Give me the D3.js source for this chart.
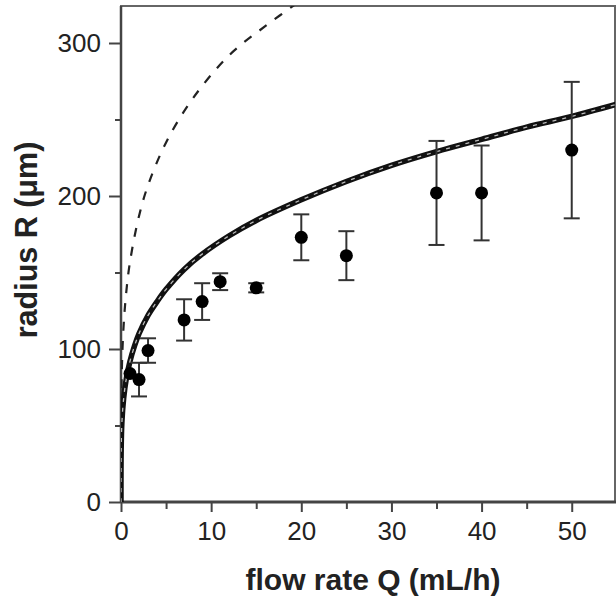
<!DOCTYPE html>
<html><head><meta charset="utf-8">
<script src="https://cdn.jsdelivr.net/npm/d3@7"></script>
<style>body{margin:0;background:#fff}svg{display:block}</style>
</head><body>
<svg id="c" width="616" height="599"></svg>
<script>
// measured data
const flowQ   = [1, 2, 3, 7, 9, 11, 15, 20, 25, 35, 40, 50];
const radiusR = [84, 80, 99, 119, 131, 144, 140, 173, 161, 202, 202, 230];
const radiusErr = [0, 11, 8, 13.5, 12, 5.5, 3, 15, 16, 34, 31, 44.6];
// fitted model curve (solid)
const fitQ = [0, 0.02, 0.1, 0.3, 0.6, 1, 1.5, 2, 3, 4, 5, 7, 9, 12, 15, 20, 25, 30, 35, 40, 45, 50, 55];
const fitR = [0, 34, 52, 68, 81, 92, 102, 110, 122, 131, 139, 152, 162, 174, 184, 197.5, 209.5, 220, 229, 237, 245, 252, 260];
// second model curve (thin dashed)
const dashQ = [0, 0.01, 0.05, 0.2, 0.5, 1, 2, 3, 5, 8, 12, 16, 20];
const dashR = [0, 50, 74, 105, 132, 157, 187, 207, 235, 264, 292, 311, 328];
const xTicks = [0, 10, 20, 30, 40, 50];
const xMinor = [5, 15, 25, 35, 45];
const yTicks = [0, 100, 200, 300];
const yMinor = [50, 150, 250];

const svg = d3.select("#c");
const L = 121, R = 615, T = 6, B = 502;
const x = d3.scaleLinear().domain([0, 54.8]).range([L, R]);
const y = d3.scaleLinear().domain([0, 300]).range([B, 43]);
const axisCol = "#444";

const defs = svg.append("defs");
defs.append("clipPath").attr("id","pc").append("rect")
  .attr("x", L).attr("y", T).attr("width", R - L).attr("height", B - T);

// frame
svg.append("rect").attr("x", L).attr("y", T).attr("width", R - L).attr("height", B - T)
  .attr("fill","none").attr("stroke","#666").attr("stroke-width",2);

const font = "'Liberation Sans', Arial, sans-serif";

// x axis
svg.append("g").attr("transform",`translate(0,${B})`)
  .call(d3.axisBottom(x).tickValues(xTicks).tickSize(10).tickPadding(10).tickFormat(d3.format("d")));
svg.append("g").attr("transform",`translate(0,${B})`)
  .call(d3.axisBottom(x).tickValues(xMinor).tickSize(7).tickFormat(""));
// y axis
svg.append("g").attr("transform",`translate(${L},0)`)
  .call(d3.axisLeft(y).tickValues(yTicks).tickSize(12).tickPadding(8).tickFormat(d3.format("d")));
svg.append("g").attr("transform",`translate(${L},0)`)
  .call(d3.axisLeft(y).tickValues(yMinor).tickSize(6).tickFormat(""));
svg.selectAll(".domain").remove();
svg.selectAll(".tick line").attr("stroke", axisCol).attr("stroke-width", 2);
svg.selectAll(".tick text").attr("font-family", font).attr("font-size", 26).attr("fill","#222");
// axis lines
svg.append("line").attr("x1", L).attr("x2", L).attr("y1", T).attr("y2", B)
  .attr("stroke", axisCol).attr("stroke-width", 2.5);
svg.append("line").attr("x1", L).attr("x2", R + 1).attr("y1", B).attr("y2", B)
  .attr("stroke", axisCol).attr("stroke-width", 3);

const plot = svg.append("g").attr("clip-path","url(#pc)");

// curves
const lineFit = d3.line().x((d,i)=>x(fitQ[i])).y((d,i)=>y(fitR[i])).curve(d3.curveCatmullRom.alpha(0.5));
const lineDash = d3.line().x((d,i)=>x(dashQ[i])).y((d,i)=>y(dashR[i])).curve(d3.curveCatmullRom.alpha(0.5));

plot.append("path").attr("d", lineDash(dashQ)).attr("fill","none")
  .attr("stroke","#222").attr("stroke-width",2.2).attr("stroke-dasharray","9,10");
plot.append("path").attr("d", lineFit(fitQ)).attr("fill","none")
  .attr("stroke","#111").attr("stroke-width",5.5);
plot.append("path").attr("d", lineFit(fitQ)).attr("fill","none")
  .attr("stroke","#bbb").attr("stroke-width",1.3).attr("stroke-dasharray","4,6");

// error bars
const eb = plot.append("g").attr("stroke","#333").attr("stroke-width",2);
flowQ.forEach((q,i)=>{
  const e = radiusErr[i];
  if (!e) return;
  const cx = x(q);
  eb.append("line").attr("x1",cx).attr("x2",cx).attr("y1",y(radiusR[i]-e)).attr("y2",y(radiusR[i]+e));
  [radiusR[i]-e, radiusR[i]+e].forEach(v=>{
    eb.append("line").attr("x1",cx-8).attr("x2",cx+8).attr("y1",y(v)).attr("y2",y(v));
  });
});
// points
plot.append("g").selectAll("circle").data(flowQ).join("circle")
  .attr("cx",(d)=>x(d)).attr("cy",(d,i)=>y(radiusR[i])).attr("r",6.5).attr("fill","#000");

// titles
svg.append("text").attr("x", 373).attr("y", 590).attr("text-anchor","middle")
  .attr("font-family", font).attr("font-weight","bold").attr("font-size", 30).attr("fill","#222")
  .text("flow rate Q (mL/h)");
svg.append("text").attr("transform","translate(37,240) rotate(-90)").attr("text-anchor","middle")
  .attr("font-family", font).attr("font-weight","bold").attr("font-size", 30.5).attr("fill","#222")
  .text("radius R (μm)");
</script>
</body></html>
